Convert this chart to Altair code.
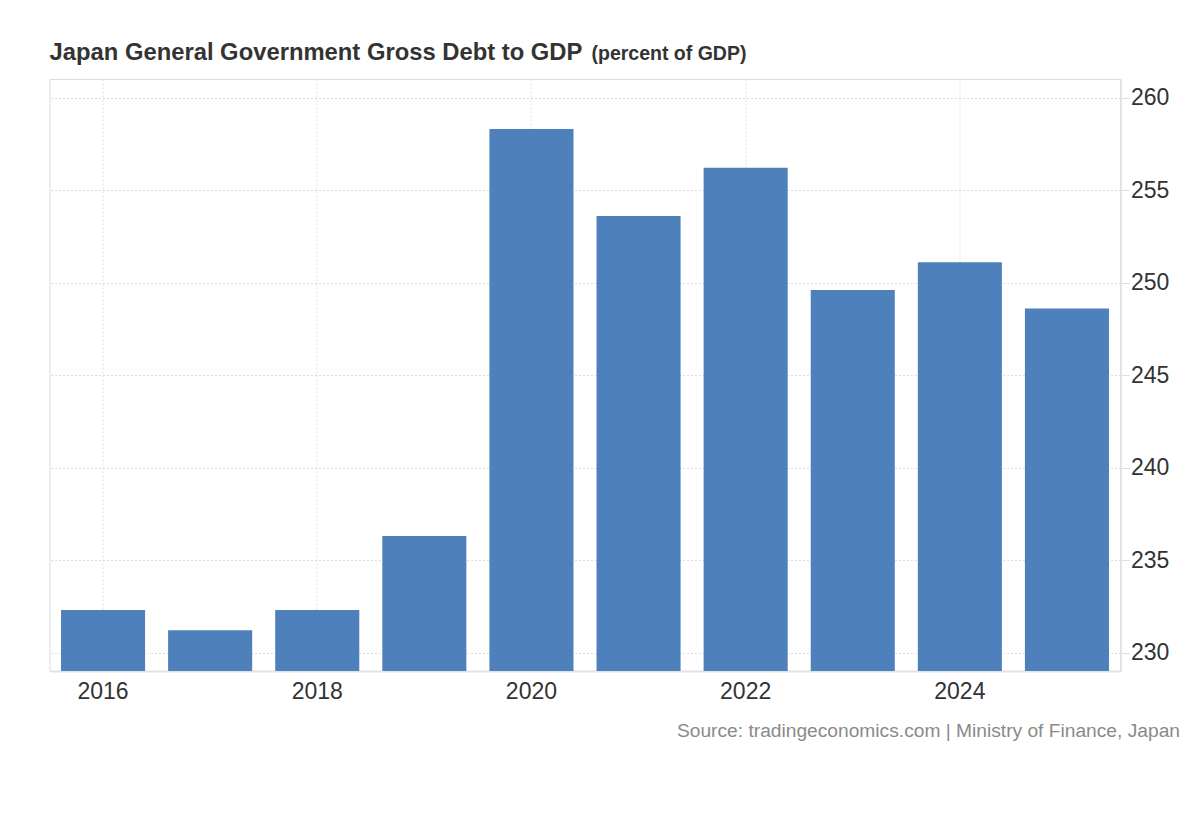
import altair as alt
import pandas as pd

# ---- data ----
years = ["2016", "2017", "2018", "2019", "2020", "2021", "2022", "2023", "2024", "2025"]
debt_to_gdp = [232.3, 231.2, 232.3, 236.3, 258.3, 253.6, 256.2, 249.6, 251.1, 248.6]
x_tick_labels = ["2016", "2018", "2020", "2022", "2024"]
y_tick_values = [230, 235, 240, 245, 250, 255, 260]

title_text = "Japan General Government Gross Debt to GDP"
subtitle_text = "(percent of GDP)"
source_text = "Source: tradingeconomics.com | Ministry of Finance, Japan"

FONT = "Liberation Sans"
df = pd.DataFrame({"year": years, "value": debt_to_gdp})

bars = alt.Chart(df).mark_bar(color="#4e80bc", clip=True).encode(
    x=alt.X(
        "year:N",
        sort=years,
        scale=alt.Scale(paddingInner=0.215, paddingOuter=0.1075),
        axis=alt.Axis(
            title=None,
            values=x_tick_labels,
            labelAngle=0,
            ticks=False,
            labelPadding=9,
            labelFontSize=23,
            labelColor="#333333",
            labelFont=FONT,
            domainColor="#e3e3e3",
            domainWidth=2,
            grid=True,
            gridColor="#dedede",
            gridDash=[2, 2],
            bandPosition=0.5,
        ),
    ),
    y=alt.Y(
        "value:Q",
        scale=alt.Scale(domain=[229, 261], zero=False, nice=False),
        axis=alt.Axis(
            title=None,
            orient="right",
            values=y_tick_values,
            tickSize=9,
            tickColor="#e0e0e0",
            labelPadding=1,
            labelFontSize=23,
            labelColor="#333333",
            labelFont=FONT,
            domainColor="#e3e3e3",
            domainWidth=2,
            grid=True,
            gridColor="#dedede",
            gridDash=[2, 2],
        ),
    ),
)

title = alt.Chart(pd.DataFrame({"t": [title_text]})).mark_text(
    align="left", baseline="alphabetic", font=FONT, fontSize=23.8,
    fontWeight="bold", color="#333333",
).encode(x=alt.value(0), y=alt.value(-19), text="t:N")

subtitle = alt.Chart(pd.DataFrame({"t": [subtitle_text]})).mark_text(
    align="left", baseline="alphabetic", font=FONT, fontSize=19.5,
    fontWeight="bold", color="#333333",
).encode(x=alt.value(542), y=alt.value(-19), text="t:N")

source = alt.Chart(pd.DataFrame({"t": [source_text]})).mark_text(
    align="right", baseline="alphabetic", font=FONT, fontSize=19.2,
    color="#8a8a8a",
).encode(x=alt.value(1130.5), y=alt.value(658), text="t:N")

chart = alt.layer(bars, title, subtitle, source).properties(
    width=1071,
    height=592,
    autosize=alt.AutoSizeParams(type="none"),
    padding={"left": 49.5, "top": 79, "right": 79.5, "bottom": 149},
).configure_view(stroke="#e3e3e3", strokeDash=[2, 2]).configure(background="white")

chart.save("out.html", embed_options={"renderer": "svg", "actions": False})
